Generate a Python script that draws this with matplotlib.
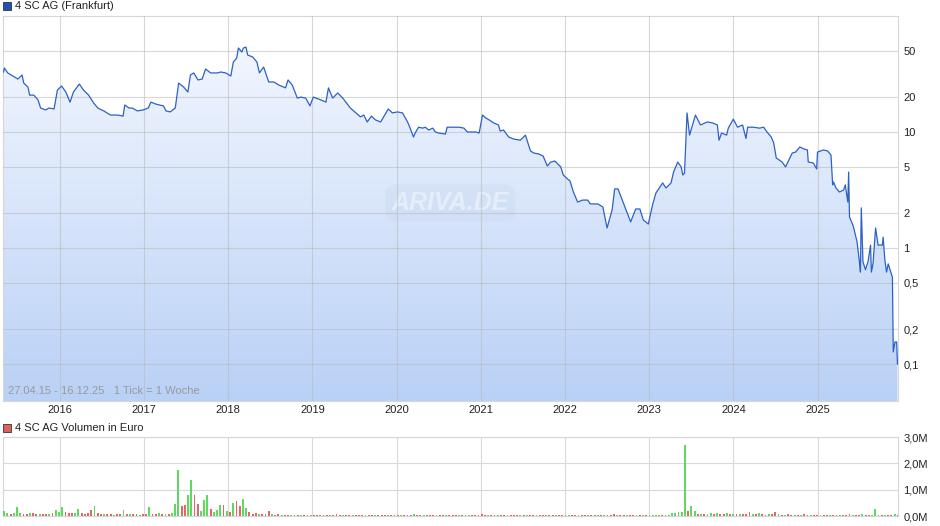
import numpy as np
import matplotlib
matplotlib.use("Agg")
import matplotlib.pyplot as plt
from matplotlib.colors import LinearSegmentedColormap
from matplotlib.patches import Rectangle
from matplotlib.ticker import FixedLocator, NullLocator

plt.rcParams['font.family'] = ['Liberation Sans', 'DejaVu Sans']

price_t = [
    2015.33, 2015.34, 2015.38, 2015.44, 2015.50, 2015.55, 2015.57, 2015.62, 2015.64, 2015.69, 2015.74, 2015.77, 2015.83, 2015.87, 2015.93, 2015.97,
    2016.02, 2016.07, 2016.12, 2016.16, 2016.23, 2016.28, 2016.34, 2016.40, 2016.45, 2016.52, 2016.60, 2016.69, 2016.75, 2016.77, 2016.82, 2016.86, 2016.92, 2016.99,
    2017.05, 2017.08, 2017.14, 2017.18, 2017.23, 2017.26, 2017.31, 2017.37, 2017.41, 2017.47, 2017.52, 2017.55, 2017.59, 2017.64, 2017.69, 2017.73, 2017.79, 2017.87, 2017.91, 2017.97,
    2018.03, 2018.06, 2018.10, 2018.12, 2018.16, 2018.18, 2018.21, 2018.23, 2018.29, 2018.34, 2018.37, 2018.42, 2018.48, 2018.54, 2018.60, 2018.68, 2018.71, 2018.76, 2018.82, 2018.86, 2018.92, 2018.97,
    2019.01, 2019.10, 2019.16, 2019.19, 2019.24, 2019.30, 2019.36, 2019.45, 2019.57, 2019.61, 2019.65, 2019.70, 2019.75, 2019.81, 2019.90, 2019.95,
    2020.01, 2020.07, 2020.13, 2020.16, 2020.20, 2020.22, 2020.26, 2020.31, 2020.34, 2020.38, 2020.43, 2020.46, 2020.50, 2020.58, 2020.60, 2020.68, 2020.74, 2020.80, 2020.84, 2020.94, 2020.98,
    2021.02, 2021.06, 2021.10, 2021.15, 2021.21, 2021.23, 2021.27, 2021.33, 2021.39, 2021.47, 2021.53, 2021.59, 2021.63, 2021.69, 2021.74, 2021.79, 2021.83, 2021.88, 2021.95, 2021.98,
    2022.03, 2022.06, 2022.10, 2022.15, 2022.21, 2022.27, 2022.30, 2022.39, 2022.45, 2022.50, 2022.56, 2022.59, 2022.63, 2022.69, 2022.74, 2022.78, 2022.84, 2022.89, 2022.93, 2022.99,
    2023.04, 2023.08, 2023.16, 2023.20, 2023.26, 2023.29, 2023.34, 2023.38, 2023.40, 2023.42, 2023.45, 2023.48, 2023.55, 2023.61, 2023.69, 2023.75, 2023.81, 2023.83, 2023.86, 2023.92, 2023.94,
    2024.00, 2024.05, 2024.11, 2024.15, 2024.17, 2024.24, 2024.31, 2024.36, 2024.40, 2024.45, 2024.48, 2024.51, 2024.58, 2024.62, 2024.70, 2024.74, 2024.79, 2024.84, 2024.88, 2024.89, 2024.95, 2024.99,
    2025.00, 2025.07, 2025.12, 2025.16, 2025.18, 2025.19, 2025.22, 2025.26, 2025.31, 2025.33, 2025.36, 2025.37, 2025.38, 2025.42, 2025.43, 2025.47, 2025.50, 2025.51, 2025.52,
    2025.54, 2025.57, 2025.58, 2025.60, 2025.63, 2025.64, 2025.66, 2025.69, 2025.72, 2025.77, 2025.78, 2025.80, 2025.82, 2025.84, 2025.89, 2025.90, 2025.92, 2025.94, 2025.95,
]
price_v = [
    32.9, 35.6, 32.3, 30.4, 28.6, 31.0, 26.4, 24.4, 20.8, 20.8, 18.9, 16.1, 15.5, 16.1, 15.8, 23.0,
    24.9, 22.1, 18.1, 22.1, 25.9, 23.0, 20.8, 17.8, 16.1, 15.2, 14.0, 14.0, 13.7, 17.1, 16.1, 16.1, 15.2, 15.5,
    16.1, 18.1, 17.4, 17.1, 16.8, 15.2, 14.9, 16.1, 26.4, 24.4, 22.1, 31.0, 32.3, 28.1, 28.6, 34.9, 32.3, 32.3, 32.9, 32.3,
    30.4, 40.1, 43.4, 53.0, 48.9, 53.0, 54.0, 46.1, 44.3, 40.1, 32.3, 36.3, 27.0, 27.0, 25.4, 24.0, 28.1, 25.4, 19.6, 20.0, 19.6, 16.8,
    20.0, 18.9, 18.1, 24.0, 19.6, 21.7, 19.6, 16.1, 13.5, 14.0, 12.2, 13.7, 12.7, 12.2, 15.8, 14.6,
    14.9, 14.6, 12.2, 10.8, 9.06, 9.8, 11.0, 10.8, 11.0, 10.4, 10.8, 10.0, 9.8, 9.6, 11.0, 11.0, 11.0, 10.8, 10.0, 10.0, 9.8,
    14.0, 13.2, 12.7, 12.0, 11.5, 10.2, 10.4, 9.06, 8.7, 8.5, 9.4, 6.86, 6.59, 6.46, 6.21, 5.09, 5.51, 5.62, 5.0, 4.26,
    3.94, 3.78, 3.04, 2.49, 2.59, 2.59, 2.40, 2.40, 2.26, 1.49, 2.13, 3.23, 3.23, 2.49, 2.01, 1.68, 2.17, 2.17, 1.75, 1.61,
    2.35, 2.98, 3.64, 3.29, 3.64, 4.52, 5.51, 5.0, 4.26, 4.43, 14.6, 9.4, 14.0, 11.5, 12.2, 12.0, 11.5, 8.5, 9.8, 9.4, 10.8,
    12.9, 11.0, 11.5, 8.8, 11.0, 11.0, 10.8, 11.0, 10.0, 9.06, 8.04, 5.97, 5.51, 5.0, 6.59, 6.72, 7.42, 7.14, 7.0, 5.51, 5.41, 4.80,
    6.72, 7.0, 6.86, 6.33, 3.50, 3.71, 3.29, 3.04, 3.16, 3.50, 2.49, 4.52, 1.85, 1.58, 1.49, 1.13, 0.74, 0.62, 2.22,
    0.76, 0.65, 0.69, 0.76, 1.06, 0.62, 0.74, 1.49, 1.06, 1.06, 1.24, 0.79, 0.62, 0.73, 0.56, 0.127, 0.155, 0.155, 0.10,
]

# Umsatz in Mio. EUR, je 2 Wochen ab 27.04.15
vol_2015 = [0.19, 0.10, 0.08, 0.10, 0.34, 0.10, 0.06, 0.08, 0.11, 0.11, 0.07, 0.08, 0.06, 0.07, 0.06, 0.10, 0.22, 0.16]
vol_2016 = [0.34, 0.14, 0.10, 0.12, 0.10, 0.25, 0.10, 0.08, 0.10, 0.22, 0.37, 0.10, 0.08, 0.07, 0.06, 0.06, 0.05, 0.06, 0.07, 0.22, 0.09, 0.08, 0.06, 0.07, 0.05, 0.06]
vol_2017 = [0.07, 0.34, 0.08, 0.06, 0.10, 0.08, 0.06, 0.07, 0.10, 0.44, 1.76, 0.39, 0.41, 0.79, 1.35, 0.81, 0.44, 0.20, 0.60, 0.79, 0.26, 0.15, 0.22, 0.41, 0.41, 0.19]
vol_2018 = [0.14, 0.50, 0.56, 0.39, 0.64, 0.31, 0.14, 0.08, 0.10, 0.07, 0.08, 0.07, 0.19, 0.06, 0.05, 0.06, 0.05, 0.04, 0.05, 0.04, 0.05, 0.04, 0.04, 0.05, 0.04, 0.03]
vol_2019 = [0.04, 0.03, 0.04, 0.05, 0.03, 0.04, 0.04, 0.07, 0.04, 0.03, 0.04, 0.05, 0.03, 0.04, 0.03, 0.04, 0.05, 0.03, 0.04, 0.03, 0.04, 0.04, 0.03, 0.05, 0.03, 0.04]
vol_2020 = [0.03, 0.04, 0.03, 0.04, 0.05, 0.06, 0.04, 0.03, 0.04, 0.03, 0.04, 0.05, 0.03, 0.04, 0.03, 0.03, 0.04, 0.05, 0.03, 0.04, 0.03, 0.04, 0.03, 0.04, 0.03, 0.04]
vol_2021 = [0.08, 0.04, 0.03, 0.04, 0.03, 0.03, 0.04, 0.03, 0.05, 0.03, 0.04, 0.03, 0.03, 0.04, 0.03, 0.04, 0.03, 0.03, 0.04, 0.03, 0.04, 0.05, 0.03, 0.04, 0.03, 0.03]
vol_2022 = [0.03, 0.03, 0.04, 0.03, 0.03, 0.04, 0.03, 0.03, 0.02, 0.03, 0.03, 0.04, 0.03, 0.03, 0.05, 0.09, 0.04, 0.03, 0.03, 0.02, 0.03, 0.03, 0.02, 0.03, 0.03, 0.02]
vol_2023 = [0.03, 0.03, 0.03, 0.04, 0.03, 0.04, 0.05, 0.13, 0.10, 0.16, 0.16, 2.70, 0.19, 0.39, 0.20, 0.08, 0.09, 0.07, 0.08, 0.10, 0.07, 0.10, 0.06, 0.08, 0.10, 0.07]
vol_2024 = [0.08, 0.06, 0.09, 0.07, 0.06, 0.16, 0.08, 0.06, 0.10, 0.07, 0.05, 0.09, 0.06, 0.16, 0.07, 0.05, 0.04, 0.06, 0.05, 0.04, 0.05, 0.04, 0.06, 0.04, 0.05, 0.04]
vol_2025 = [0.04, 0.05, 0.04, 0.03, 0.05, 0.04, 0.03, 0.04, 0.05, 0.04, 0.08, 0.04, 0.03, 0.05, 0.06, 0.04, 0.05, 0.04, 0.28, 0.05, 0.04, 0.03, 0.05, 0.04, 0.06, 0.04]

# Balkenfarbe: g = Kurs gestiegen, r = gefallen
dir_2015 = "ggrgggrrgrrgrrgrgg"
dir_2016 = "grrrggrrrrgrrgrrgrrgrgrrgr"
dir_2017 = "rgrrgrgrgggrrggrrgggrgggrg"
dir_2018 = "rgrrggrrrgrrrgrrgrrgrrgrrg"
dir_2019 = "rrgrrgrrrgrrgrrrgrrgrrrgrr"
dir_2020 = "rgrrrgrrgrrrgrrgrrrgrrgrrr"
dir_2021 = "rrgrrgrrgrrrgrgrrgrrgrrgrr"
dir_2022 = "rgrrgrrgrrgrgrrrgrrgrrgrgr"
dir_2023 = "ggggrgggggggrggrgrggrgrrgr"
dir_2024 = "grgrrrgrgrrgrrgrgrrgrgrrgr"
dir_2025 = "rgrrgrrgrrrgrrgrrggrrgrrgr"

years = list(range(2016, 2026))
y_ticks = [0.1, 0.2, 0.5, 1, 2, 5, 10, 20, 50]
y_labels = ['0,1', '0,2', '0,5', '1', '2', '5', '10', '20', '50']
start, end = 2015.318, 2025.956

fig = plt.figure(figsize=(9.4, 5.26), dpi=100)
ax = fig.add_axes([0.0027, 0.2376, 0.9526, 0.7320])
axv = fig.add_axes([0.0027, 0.0190, 0.9526, 0.1502])

# --- Kurs ---
ax.set_yscale('log')
ymin, ymax = 0.048, 100
poly = ax.fill_between(price_t, price_v, ymin, facecolor='none', edgecolor='none')
cmap = LinearSegmentedColormap.from_list('ariva', ['#b9d1f6', '#f7f9ff'])
grad = np.linspace(0, 1, 256).reshape(-1, 1)
im = ax.imshow(grad, cmap=cmap, aspect='auto', origin='lower', extent=[0, 1, 0, 1],
               transform=ax.transAxes, zorder=1)
im.set_clip_path(poly.get_paths()[0], transform=ax.transData)
ax.plot(price_t, price_v, color='#2c62c6', lw=0.9, zorder=3)
ax.set_xlim(start, end)
ax.set_ylim(ymin, ymax)

ax.yaxis.tick_right()
ax.yaxis.set_major_locator(FixedLocator(y_ticks))
ax.yaxis.set_minor_locator(NullLocator())
ax.set_yticklabels(y_labels)
ax.set_xticks(years)
ax.set_xticklabels([str(y) for y in years])
ax.tick_params(axis='both', length=0, labelsize=8, colors='#222222')
ax.tick_params(axis='y', pad=4)
ax.tick_params(axis='x', pad=3)
ax.grid(True, color='#b8b8b8', alpha=0.55, lw=0.8, zorder=2)
ax.set_axisbelow(False)
for s in ax.spines.values():
    s.set_color('#d6d6d6')
    s.set_linewidth(0.8)

ax.text(0.006, 0.012, '27.04.15 - 16.12.25   1 Tick = 1 Woche', transform=ax.transAxes,
        fontsize=8, color='#9a9a9a', ha='left', va='bottom', zorder=4)
ax.text(0.50, 0.515, 'ARIVA.DE', transform=ax.transAxes, fontsize=18, fontweight='bold',
        fontstyle='italic', color='white', alpha=0.45, ha='center', va='center', zorder=2,
        bbox=dict(boxstyle='round,pad=0.25,rounding_size=0.4', fc='#c6d5ee', ec='none', alpha=0.3))

# --- Volumen ---
vol = np.array(vol_2015 + vol_2016 + vol_2017 + vol_2018 + vol_2019 + vol_2020
               + vol_2021 + vol_2022 + vol_2023 + vol_2024 + vol_2025) * 1e6
dirs = (dir_2015 + dir_2016 + dir_2017 + dir_2018 + dir_2019 + dir_2020
        + dir_2021 + dir_2022 + dir_2023 + dir_2024 + dir_2025)
step = 14 / 365.25
tc = start + (np.arange(len(vol)) + 0.5) * step
colors = ['#5fd85f' if d == 'g' else '#e06767' for d in dirs]
axv.bar(tc, vol, width=8 / 365.25, color=colors, linewidth=0, zorder=3)
axv.set_xlim(start, end)
axv.set_ylim(0, 3e6)
axv.yaxis.tick_right()
axv.set_yticks([0, 1e6, 2e6, 3e6])
axv.set_yticklabels(['0,0M', '1,0M', '2,0M', '3,0M'])
axv.set_xticks(years)
axv.set_xticklabels([])
axv.tick_params(axis='both', length=0, labelsize=8, colors='#222222')
axv.tick_params(axis='y', pad=4)
axv.grid(True, color='#d9d9d9', lw=0.8, zorder=0)
axv.set_axisbelow(True)
for s in axv.spines.values():
    s.set_color('#d6d6d6')
    s.set_linewidth(0.8)

# --- Legenden-Titel ---
fig.patches.append(Rectangle((3 / 940, 1 - 10 / 526), 8 / 940, 8 / 526, transform=fig.transFigure,
                             facecolor='#1f52b3', edgecolor='#333333', lw=0.6))
fig.text(15 / 940, 1 - 6 / 526, '4 SC AG (Frankfurt)', fontsize=8, va='center', ha='left', color='#222222')
fig.patches.append(Rectangle((3 / 940, 1 - 432 / 526), 8 / 940, 8 / 526, transform=fig.transFigure,
                             facecolor='#e06060', edgecolor='#333333', lw=0.6))
fig.text(15 / 940, 1 - 428 / 526, '4 SC AG Volumen in Euro', fontsize=8, va='center', ha='left', color='#222222')

fig.savefig('out.png', dpi=100)
